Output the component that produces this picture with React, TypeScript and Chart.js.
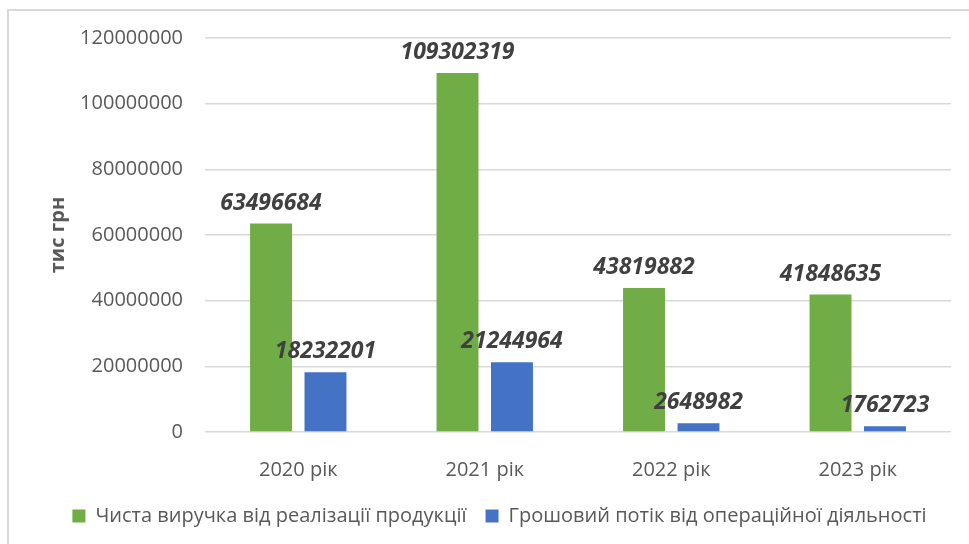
import React, { useEffect, useRef } from "react";
import { Chart, registerables } from "chart.js";

Chart.register(...registerables);

const categories = ["2020 рік", "2021 рік", "2022 рік", "2023 рік"];
const revenue = [63496684, 109302319, 43819882, 41848635];
const cashFlow = [18232201, 21244964, 2648982, 1762723];
const seriesNames = [
  "Чиста виручка від реалізації продукції",
  "Грошовий потік від операційної діяльності",
];
const yTicks = [0, 20000000, 40000000, 60000000, 80000000, 100000000, 120000000];
const yTitle = "тис грн";

const FONT = "'Open Sans', 'Noto Sans', sans-serif";

const valueLabels = {
  id: "valueLabels",
  afterDatasetsDraw(chart: any) {
    const ctx = chart.ctx;
    ctx.save();
    ctx.font = `italic bold 23px ${FONT}`;
    ctx.fillStyle = "#404040";
    ctx.textAlign = "center";
    ctx.textBaseline = "alphabetic";
    chart.data.datasets.forEach((ds: any, di: number) => {
      const meta = chart.getDatasetMeta(di);
      meta.data.forEach((el: any, i: number) => {
        const v = ds.data[i];
        ctx.fillText(String(v), el.x, el.y - 14);
      });
    });
    ctx.restore();
  },
};

// the original chart frame is wider than the picture, so its legend sits right of centre
const legendShift = {
  id: "legendShift",
  afterLayout(chart: any) {
    if (chart.legend) {
      chart.legend.left += 24;
      chart.legend.right += 24;
    }
  },
};

export default function App() {
  const ref = useRef<HTMLCanvasElement>(null);
  useEffect(() => {
    if (!ref.current) return;
    const chart = new Chart(ref.current, {
      type: "bar",
      data: {
        labels: categories,
        datasets: [
          {
            label: seriesNames[0],
            data: revenue,
            backgroundColor: "#70AD47",
            categoryPercentage: 0.584,
            barPercentage: 0.77,
          },
          {
            label: seriesNames[1],
            data: cashFlow,
            backgroundColor: "#4472C4",
            categoryPercentage: 0.584,
            barPercentage: 0.77,
          },
        ],
      },
      options: {
        animation: false,
        responsive: false,
        devicePixelRatio: 1,
        layout: { padding: { top: 38, right: 18, left: 0, bottom: 8 } },
        plugins: {
          tooltip: { enabled: false },
          legend: {
            position: "bottom",
            labels: {
              font: { family: FONT, size: 20 },
              color: "#595959",
              boxWidth: 13,
              boxHeight: 13,
              padding: 19,
            },
          },
        },
        scales: {
          x: {
            grid: { display: false },
            border: { display: false },
            ticks: {
              font: { family: FONT, size: 20 },
              color: "#595959",
              padding: 18,
            },
            afterFit: (s: any) => {
              s.height = 55;
            },
          },
          y: {
            min: 0,
            max: 120000000,
            afterBuildTicks: (s: any) => {
              s.ticks = yTicks.map((v) => ({ value: v }));
            },
            afterFit: (s: any) => {
              s.width = 205;
            },
            grid: { color: "#d9d9d9", lineWidth: 1.5, drawTicks: false },
            border: { display: false },
            ticks: {
              font: { family: FONT, size: 20 },
              color: "#595959",
              padding: 22,
              callback: (v: any) => String(v),
            },
            title: {
              display: true,
              text: yTitle,
              font: { family: FONT, size: 20, weight: "bold" },
              color: "#595959",
              padding: { top: 46, bottom: 0 },
            },
          },
        },
      },
      plugins: [valueLabels, legendShift],
    } as any);
    return () => chart.destroy();
  }, []);

  return (
    <div
      style={{
        position: "fixed",
        left: 0,
        top: 0,
        width: 969,
        height: 544,
        overflow: "hidden",
        background: "#fff",
      }}
    >
      <div
        style={{
          position: "absolute",
          left: 7,
          top: 9,
          width: 1000,
          height: 600,
          border: "2px solid #d9d9d9",
        }}
      />
      <canvas
        ref={ref}
        width={969}
        height={544}
        style={{ position: "absolute", left: 0, top: 0 }}
      />
    </div>
  );
}
